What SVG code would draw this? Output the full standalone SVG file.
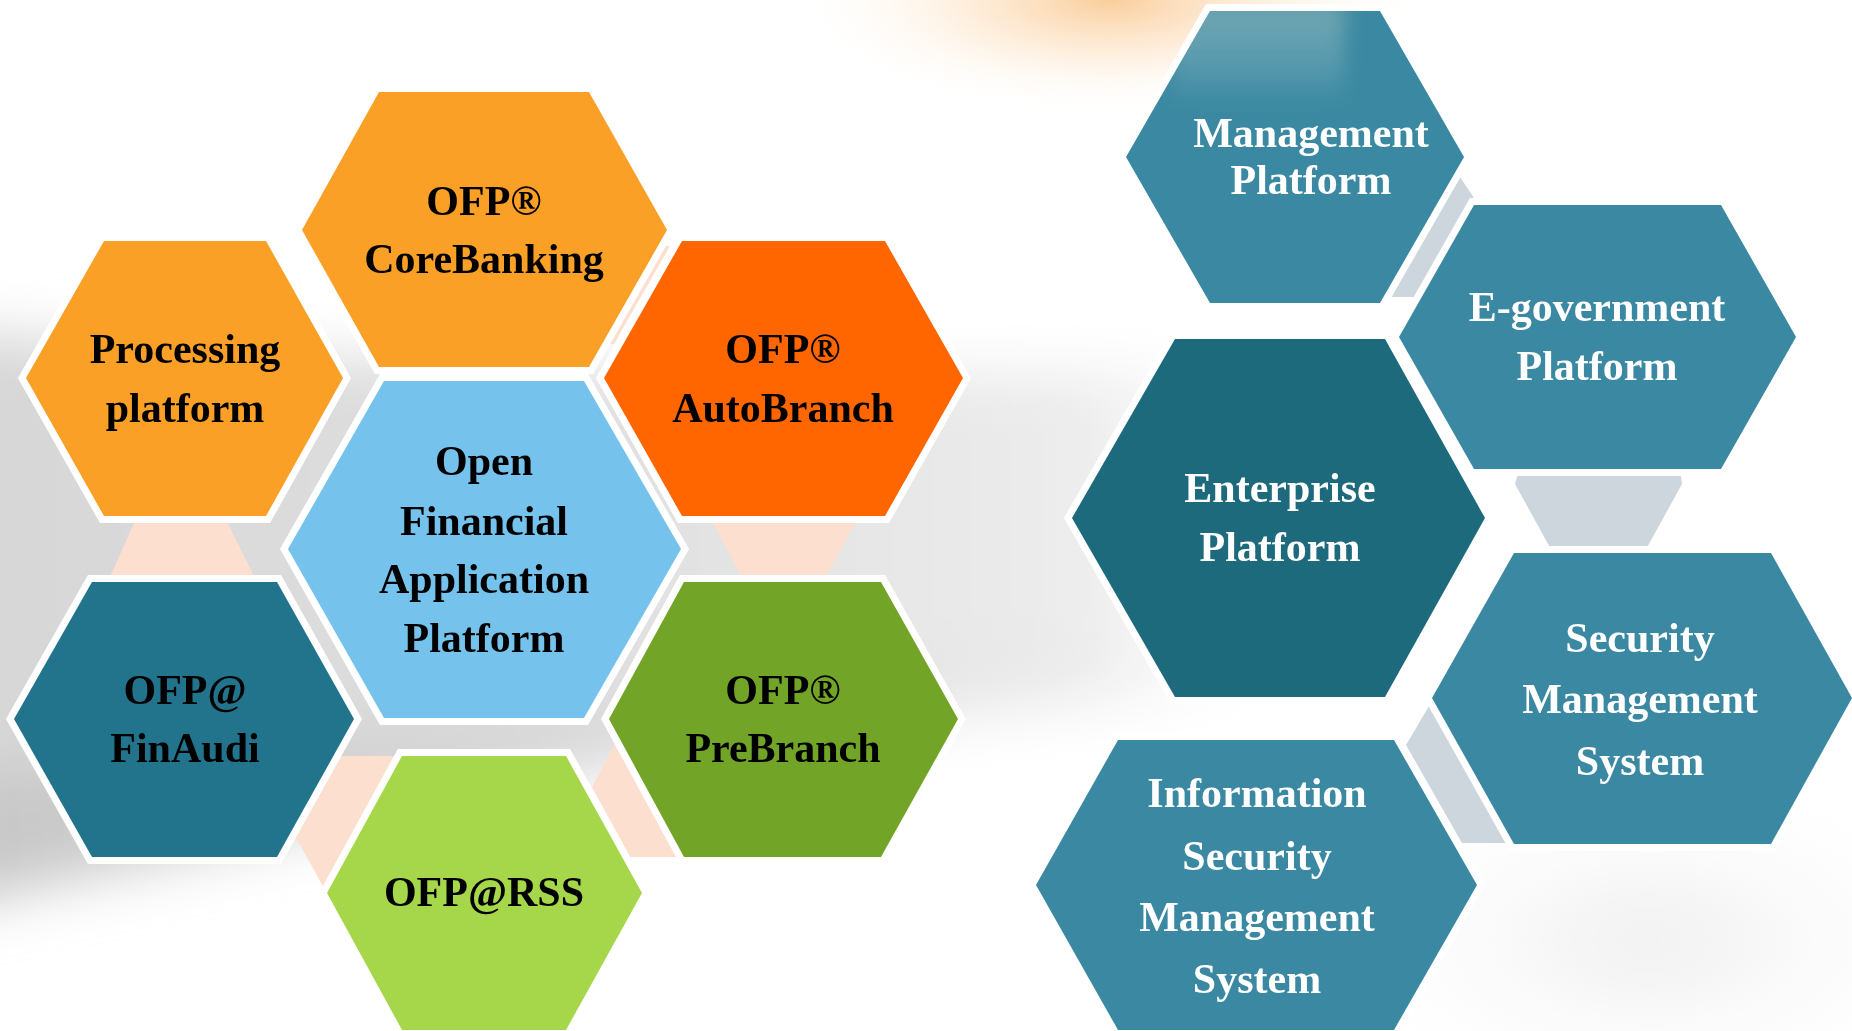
<svg xmlns="http://www.w3.org/2000/svg" width="1852" height="1031" viewBox="0 0 1852 1031">
  <defs>
    <linearGradient id="swooshA" x1="0" y1="0" x2="1" y2="0">
      <stop offset="0" stop-color="#d6d6d6"/>
      <stop offset="0.5" stop-color="#e0e0e0"/>
      <stop offset="0.85" stop-color="#ececec"/>
      <stop offset="1" stop-color="#f6f6f6" stop-opacity="0"/>
    </linearGradient>
    <linearGradient id="swooshB" x1="0" y1="0" x2="1" y2="0">
      <stop offset="0" stop-color="#c2c2c2"/>
      <stop offset="0.5" stop-color="#d4d4d4"/>
      <stop offset="1" stop-color="#e4e4e4" stop-opacity="0"/>
    </linearGradient>
    <radialGradient id="glow" cx="0.5" cy="0.5" r="0.5">
      <stop offset="0" stop-color="#f9c890" stop-opacity="0.9"/>
      <stop offset="0.45" stop-color="#fde2c4" stop-opacity="0.6"/>
      <stop offset="1" stop-color="#ffffff" stop-opacity="0"/>
    </radialGradient>
    <radialGradient id="brGlow" cx="0.5" cy="0.5" r="0.5">
      <stop offset="0" stop-color="#eeeeee"/>
      <stop offset="1" stop-color="#ffffff" stop-opacity="0"/>
    </radialGradient>
    <linearGradient id="refl" x1="0" y1="0" x2="0" y2="1">
      <stop offset="0" stop-color="#b0c8bc" stop-opacity="0.45"/>
      <stop offset="1" stop-color="#ffffff" stop-opacity="0"/>
    </linearGradient>
    <filter id="blur" x="-20%" y="-40%" width="140%" height="180%">
      <feGaussianBlur stdDeviation="28"/>
    </filter>
    <filter id="soft" x="-20%" y="-20%" width="140%" height="140%">
      <feGaussianBlur stdDeviation="10"/>
    </filter>
    <clipPath id="mgmtClip">
      <polygon points="1210,11 1380,11 1464,157 1380,303 1210,303 1126,157"/>
    </clipPath>
    <style>
      .hex { stroke: #ffffff; stroke-width: 14; stroke-linejoin: miter; paint-order: stroke; }
      .orange { fill: #faa026; }
      .red { fill: #ff6600; }
      .blue { fill: #75c3ec; }
      .teal { fill: #21748b; }
      .green { fill: #72a427; }
      .lime { fill: #a6d64a; }
      .steel { fill: #3a88a1; }
      .deep { fill: #1e6a7d; }
      .peach { fill: #fddfcf; }
      .grey { fill: #cdd6dc; }
      text { font-family: "Liberation Serif", "Times New Roman", serif; font-weight: bold; font-size: 42px; text-anchor: middle; }
      .dark { fill: #000000; }
      .light { fill: #ffffff; }
    </style>
  </defs>

  <!-- background -->
  <rect x="0" y="0" width="1852" height="1031" fill="#ffffff"/>
  <g filter="url(#blur)">
    <path d="M-60,330 C400,370 800,380 1280,370 L1280,690 C800,720 400,800 -60,910 Z" fill="url(#swooshA)"/>
    <path d="M-60,780 C300,740 700,700 1150,620 L1150,660 C700,750 300,830 -60,910 Z" fill="url(#swooshB)" opacity="0.8"/>
    <ellipse cx="1650" cy="940" rx="360" ry="180" fill="url(#brGlow)"/>
  </g>
  <ellipse cx="1110" cy="0" rx="320" ry="115" fill="url(#glow)"/>

  <!-- connectors -->
  <g id="connectors">
    <polygon class="peach" points="140,510 221,510 261,590 104,590"/>
    <polygon class="peach" points="706,510 863,510 818,590 749,590"/>
    <polygon class="peach" points="320,756 404,756 332,888 324,888 286,820"/>
    <polygon class="peach" points="621,733 660,733 690,857 630,857 592,787"/>
    <polygon class="peach" points="664,246 670,246 614,344 609,344"/>
    <polygon class="grey" points="1452,177 1460,177 1474,198 1416,297 1385,297"/>
    <polygon class="grey" points="1519,470 1680,470 1682,484 1644,553 1553,553 1515,484"/>
    <polygon class="grey" points="1429,706 1440,706 1515,843 1462,843 1406,745"/>
  </g>

  <!-- left cluster -->
  <g id="node-corebanking">
    <polygon class="hex orange" points="379,92 589,92 667,230 589,367 379,367 302,230"/>
    <text class="dark" x="484" y="215">OFP®</text>
    <text class="dark" x="484" y="273">CoreBanking</text>
  </g>
  <g id="node-processing">
    <polygon class="hex orange" points="104,241 266,241 343,378 266,516 104,516 26,378"/>
    <text class="dark" x="185" y="363">Processing</text>
    <text class="dark" x="185" y="422">platform</text>
  </g>
  <g id="node-autobranch">
    <polygon class="hex red" points="682,241 885,241 963,378 885,516 682,516 604,378"/>
    <text class="dark" x="783" y="363">OFP®</text>
    <text class="dark" x="783" y="422">AutoBranch</text>
  </g>
  <g id="node-ofap">
    <polygon class="hex blue" points="384,381 584,381 681,549 584,718 384,718 288,549"/>
    <text class="dark" x="484" y="475">Open</text>
    <text class="dark" x="484" y="535">Financial</text>
    <text class="dark" x="484" y="593">Application</text>
    <text class="dark" x="484" y="652">Platform</text>
  </g>
  <g id="node-finaudi">
    <polygon class="hex teal" points="92,582 277,582 354,719 277,857 92,857 14,719"/>
    <text class="dark" x="185" y="704">OFP@</text>
    <text class="dark" x="185" y="762">FinAudi</text>
  </g>
  <g id="node-prebranch">
    <polygon class="hex green" points="684,582 881,582 958,719 881,857 684,857 609,719"/>
    <text class="dark" x="783" y="704">OFP®</text>
    <text class="dark" x="783" y="762">PreBranch</text>
  </g>
  <g id="node-rss">
    <polygon class="hex lime" points="402,756 566,756 642,893 566,1030 402,1030 327,893"/>
    <text class="dark" x="484" y="906">OFP@RSS</text>
  </g>

  <!-- right cluster -->
  <g id="node-management">
    <polygon class="hex steel" points="1210,11 1380,11 1464,157 1380,303 1210,303 1126,157"/>
    <g clip-path="url(#mgmtClip)">
      <rect x="1170" y="0" width="175" height="105" fill="url(#refl)" filter="url(#soft)"/>
    </g>
    <text class="light" x="1311" y="147">Management</text>
    <text class="light" x="1311" y="194">Platform</text>
  </g>
  <g id="node-egov">
    <polygon class="hex steel" points="1474,205 1721,205 1796,337 1721,469 1474,469 1399,337"/>
    <text class="light" x="1597" y="321">E-government</text>
    <text class="light" x="1597" y="380">Platform</text>
  </g>
  <g id="node-enterprise">
    <polygon class="hex deep" points="1175,339 1385,339 1485,518 1385,697 1175,697 1072,518"/>
    <text class="light" x="1280" y="502">Enterprise</text>
    <text class="light" x="1280" y="561">Platform</text>
  </g>
  <g id="node-security">
    <polygon class="hex steel" points="1514,553 1771,553 1852,698 1771,844 1514,844 1432,698"/>
    <text class="light" x="1640" y="652">Security</text>
    <text class="light" x="1640" y="713">Management</text>
    <text class="light" x="1640" y="775">System</text>
  </g>
  <g id="node-infosec">
    <polygon class="hex steel" points="1118,740 1394,740 1477,885 1394,1030 1118,1030 1036,885"/>
    <text class="light" x="1257" y="807">Information</text>
    <text class="light" x="1257" y="870">Security</text>
    <text class="light" x="1257" y="931">Management</text>
    <text class="light" x="1257" y="993">System</text>
  </g>
</svg>
